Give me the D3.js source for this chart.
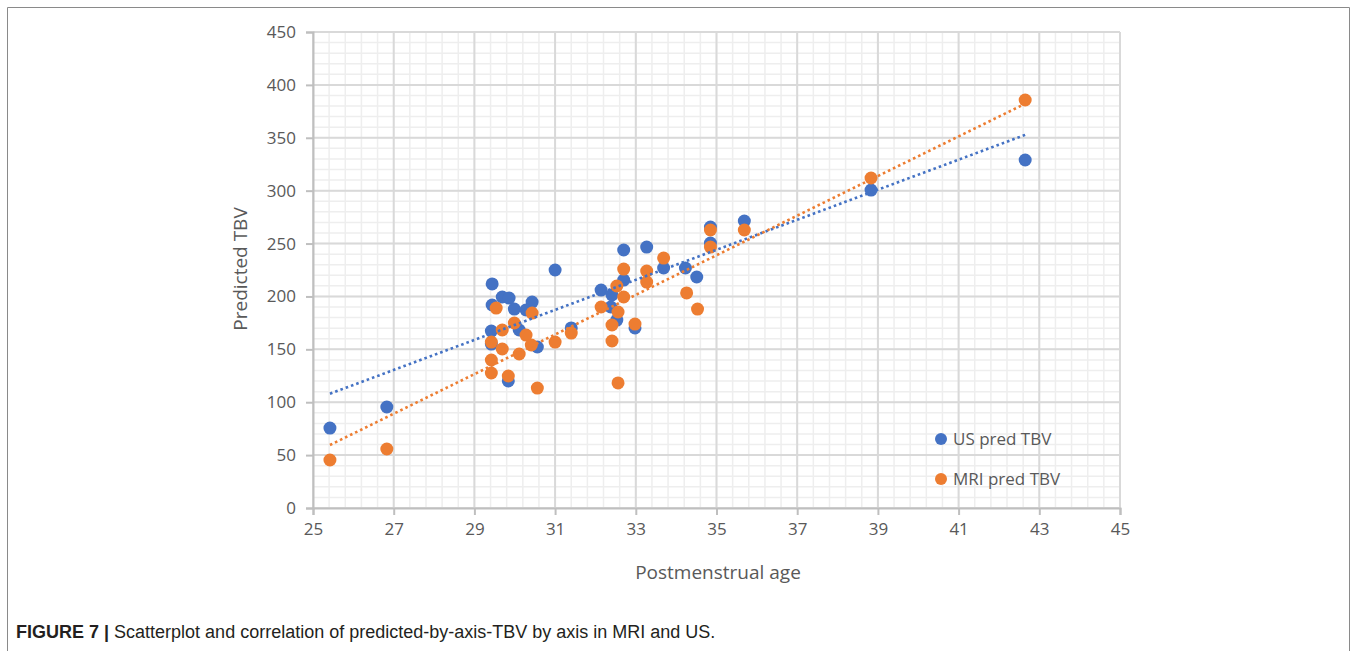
<!DOCTYPE html>
<html>
<head>
<meta charset="utf-8">
<script src="https://cdn.jsdelivr.net/npm/d3@7"></script>
<style>
  html, body { margin: 0; padding: 0; background: #fff; }
  svg { display: block; }
</style>
</head>
<body>
<svg id="chart" width="1357" height="651"></svg>
<script>
// ---- Data ----
const usAge = [25.42, 26.83, 29.44, 29.69, 29.86, 29.44, 29.99, 30.43, 30.28, 30.11, 29.42, 29.42, 30.56, 29.84,
  31.40, 31.00, 32.14, 32.41, 32.70, 32.38, 32.53, 32.98, 32.70, 33.27, 33.69, 34.23, 34.51, 34.85, 34.85, 35.69, 38.83, 42.65];
const usTBV = [75.6, 95.5, 211.8, 199.5, 198.5, 191.9, 188.1, 194.7, 187.2, 168.3, 167.3, 155.0, 152.2, 120.1,
  170.2, 225.0, 206.0, 201.4, 215.5, 190.0, 177.7, 170.2, 243.9, 246.7, 226.9, 226.9, 218.4, 250.5, 265.6, 271.3, 300.6, 329.0];

const mriAge = [25.42, 26.83, 29.54, 30.43, 29.99, 29.69, 30.28, 29.42, 30.41, 29.69, 30.11, 29.42, 29.42, 29.84, 30.56,
  31.00, 31.40, 32.70, 33.27, 33.69, 33.27, 32.53, 32.70, 32.14, 32.56, 32.41, 32.98, 32.41, 34.26, 34.53, 32.56,
  34.85, 34.85, 35.69, 38.83, 42.65];
const mriTBV = [45.4, 55.8, 189.0, 184.3, 174.9, 168.3, 163.5, 156.9, 154.1, 150.3, 145.6, 139.9, 127.6, 124.8, 113.4,
  156.9, 165.4, 225.9, 224.0, 236.3, 213.6, 209.9, 199.5, 190.0, 185.3, 173.0, 173.9, 157.9, 203.3, 188.1, 118.2,
  262.8, 246.7, 262.8, 312.0, 385.7];

const seriesNames = ["US pred TBV", "MRI pred TBV"];
const xTicks = [25, 27, 29, 31, 33, 35, 37, 39, 41, 43, 45];
const yTicks = [0, 50, 100, 150, 200, 250, 300, 350, 400, 450];
const xLabel = "Postmenstrual age";
const yLabel = "Predicted TBV";
const captionBold = "FIGURE 7 |";
const captionText = " Scatterplot and correlation of predicted-by-axis-TBV by axis in MRI and US.";

// ---- Layout ----
const svg = d3.select("#chart");
const colors = ["#4472C4", "#ED7D31"];
const textColor = "#595959";
const font = "'Open Sans', 'Noto Sans', sans-serif";

const x = d3.scaleLinear().domain([25, 45]).range([313, 1120]);
const y = d3.scaleLinear().domain([0, 450]).range([508, 32]);

// Outer frame
svg.append("path")
  .attr("d", "M7.5,660 V7.5 H1349.5 V660")
  .attr("fill", "none").attr("stroke", "#8a8a8a").attr("stroke-width", 1);

// Minor grid
const g = svg.append("g");
const minorX = d3.range(25, 45.001, 0.4);
const minorY = d3.range(0, 450.001, 10);
g.selectAll(".mx").data(minorX).join("line")
  .attr("x1", d => x(d)).attr("x2", d => x(d)).attr("y1", y(0)).attr("y2", y(450))
  .attr("stroke", "#eeeeee").attr("stroke-width", 1.5);
g.selectAll(".my").data(minorY).join("line")
  .attr("x1", x(25)).attr("x2", x(45)).attr("y1", d => y(d)).attr("y2", d => y(d))
  .attr("stroke", "#eeeeee").attr("stroke-width", 1.5);
// Major grid
g.selectAll(".Mx").data(xTicks).join("line")
  .attr("x1", d => x(d)).attr("x2", d => x(d)).attr("y1", y(0)).attr("y2", y(450))
  .attr("stroke", "#d9d9d9").attr("stroke-width", 2);
g.selectAll(".My").data(yTicks).join("line")
  .attr("x1", x(25)).attr("x2", x(45)).attr("y1", d => y(d)).attr("y2", d => y(d))
  .attr("stroke", "#d9d9d9").attr("stroke-width", 2);

// Axes
const xAxis = d3.axisBottom(x).tickValues(xTicks).tickSize(7).tickPadding(8).tickFormat(d3.format("d"));
const yAxis = d3.axisLeft(y).tickValues(yTicks).tickSize(7).tickPadding(10).tickFormat(d3.format("d"));
const gx = svg.append("g").attr("transform", `translate(0,${y(0)})`).call(xAxis);
const gy = svg.append("g").attr("transform", `translate(${x(25)},0)`).call(yAxis);
[gx, gy].forEach(a => {
  a.select(".domain").attr("stroke", "#bfbfbf").attr("stroke-width", 2);
  a.selectAll(".tick line").attr("stroke", "#bfbfbf").attr("stroke-width", 2);
  a.selectAll(".tick text").attr("fill", textColor).attr("font-family", font).attr("font-size", 17);
});

// Axis titles
svg.append("text").text(xLabel)
  .attr("x", 718).attr("y", 579).attr("text-anchor", "middle")
  .attr("fill", textColor).attr("font-family", font).attr("font-size", 19);
svg.append("text").text(yLabel)
  .attr("transform", "translate(247,269) rotate(-90)").attr("text-anchor", "middle")
  .attr("fill", textColor).attr("font-family", font).attr("font-size", 19);

// Trend lines (least squares from the data)
function fit(xs, ys) {
  const mx = d3.mean(xs), my = d3.mean(ys);
  let sxy = 0, sxx = 0;
  xs.forEach((v, i) => { sxy += (v - mx) * (ys[i] - my); sxx += (v - mx) * (v - mx); });
  const b = sxy / sxx, a = my - b * mx;
  const x0 = d3.min(xs), x1 = d3.max(xs);
  return [[x0, a + b * x0], [x1, a + b * x1]];
}
const series = [
  { xs: usAge, ys: usTBV },
  { xs: mriAge, ys: mriTBV }
];

// Points
series.forEach((s, k) => {
  svg.append("g").selectAll("circle").data(s.xs.map((v, i) => [v, s.ys[i]])).join("circle")
    .attr("cx", d => x(d[0])).attr("cy", d => y(d[1])).attr("r", 6.5)
    .attr("fill", colors[k]);
});
series.forEach((s, k) => {
  const pts = fit(s.xs, s.ys);
  svg.append("path")
    .attr("d", d3.line().x(d => x(d[0])).y(d => y(d[1]))(pts))
    .attr("fill", "none").attr("stroke", colors[k]).attr("stroke-width", 2.6)
    .attr("stroke-dasharray", "2.6,3");
});

// Legend
const legY = [439, 479];
seriesNames.forEach((n, k) => {
  svg.append("circle").attr("cx", 941).attr("cy", legY[k]).attr("r", 6).attr("fill", colors[k]);
  svg.append("text").text(n).attr("x", 953).attr("y", legY[k] + 6)
    .attr("fill", textColor).attr("font-family", font).attr("font-size", 17);
});

// Caption
const cap = svg.append("text").attr("x", 16).attr("y", 638)
  .attr("font-family", "'Liberation Sans', Arial, sans-serif").attr("font-size", 18).attr("fill", "#231f20");
cap.append("tspan").attr("font-weight", "bold").text(captionBold);
cap.append("tspan").text(captionText);
</script>
</body>
</html>
